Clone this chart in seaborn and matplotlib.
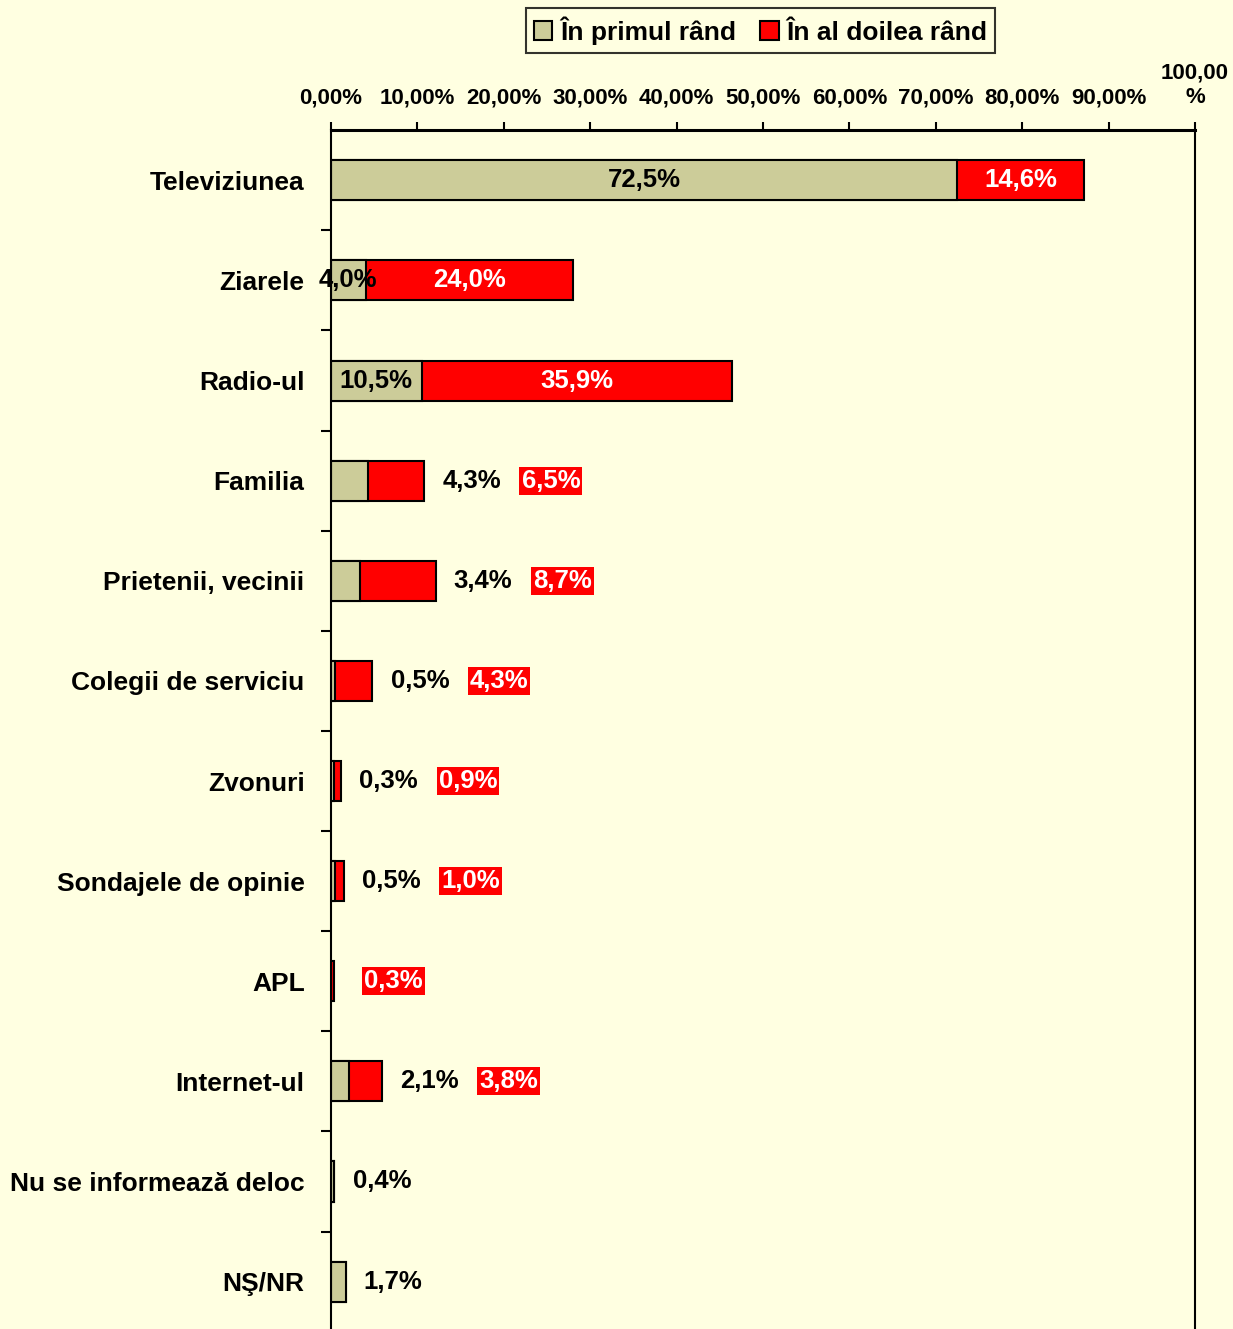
import numpy as np
import pandas as pd
import seaborn as sns
import matplotlib.pyplot as plt
from matplotlib.patches import Patch

# data (percent)
categories = ['Televiziunea', 'Ziarele', 'Radio-ul', 'Familia', 'Prietenii, vecinii',
              'Colegii de serviciu', 'Zvonuri', 'Sondajele de opinie', 'APL',
              'Internet-ul', 'Nu se informează deloc', 'NŞ/NR']
primul_rand = [72.5, 4.0, 10.5, 4.3, 3.4, 0.5, 0.3, 0.5, 0.0, 2.1, 0.4, 1.7]
al_doilea_rand = [14.6, 24.0, 35.9, 6.5, 8.7, 4.3, 0.9, 1.0, 0.3, 3.8, None, None]
x_ticks = [0, 10, 20, 30, 40, 50, 60, 70, 80, 90, 100]
x_ticklabels = ['0,00%', '10,00%', '20,00%', '30,00%', '40,00%', '50,00%',
                '60,00%', '70,00%', '80,00%', '90,00%', '100,00\n%']
legend_labels = ['În primul rând', 'În al doilea rând']

BG = '#FFFFE1'
TAN = '#CCCC99'
RED = '#FF0000'


def fmt(v):
    return f"{v:.1f}".replace('.', ',') + '%'


def main():
    sns.set_style('ticks')
    plt.rcParams['font.family'] = ['Liberation Sans', 'DejaVu Sans']
    plt.rcParams['font.weight'] = 'bold'
    for key in ['text.color', 'axes.labelcolor', 'xtick.color', 'ytick.color', 'axes.edgecolor']:
        plt.rcParams[key] = 'black'

    second = [0.0 if v is None else v for v in al_doilea_rand]
    df = pd.DataFrame({'cat': categories, 'primul': primul_rand, 'doilea': second})
    df['total'] = df['primul'] + df['doilea']

    fig = plt.figure(figsize=(12.33, 13.29), dpi=100, facecolor=BG)
    ax = fig.add_axes([331 / 1233, -0.002, (1195 - 331) / 1233, 0.904])
    ax.set_facecolor(BG)

    # stacked bars: red total first, tan first-choice on top
    sns.barplot(data=df, x='total', y='cat', color=RED, saturation=1, width=0.4,
                edgecolor='black', linewidth=1.5, orient='h', ax=ax)
    sns.barplot(data=df, x='primul', y='cat', color=TAN, saturation=1, width=0.4,
                edgecolor='black', linewidth=1.5, orient='h', ax=ax)

    ax.set_xlim(0, 100)
    ax.set_ylim(11.5, -0.5)
    ax.set_xlabel('')
    ax.set_ylabel('')

    # top axis
    ax.xaxis.set_ticks_position('top')
    ax.xaxis.set_label_position('top')
    ax.set_xticks(x_ticks)
    ax.set_xticklabels(x_ticklabels, fontsize=16, fontweight='bold',
                       family=['Liberation Sans Narrow', 'Liberation Sans'])
    ax.tick_params(axis='x', direction='out', length=6, width=1.5, pad=10, colors='black')

    # category separators as minor ticks
    ax.set_yticks(np.arange(len(categories)))
    ax.set_yticklabels(categories, fontsize=19, fontweight='bold')
    ax.set_yticks(np.arange(0.5, len(categories) - 0.5, 1), minor=True)
    ax.tick_params(axis='y', which='major', length=0, pad=19)
    ax.tick_params(axis='y', which='minor', direction='out', length=7, width=1.5)

    ax.spines['top'].set_linewidth(2.2)
    ax.spines['left'].set_linewidth(1.5)
    ax.spines['right'].set_linewidth(1.5)
    ax.spines['bottom'].set_visible(False)

    # value labels
    for i, (p, d) in enumerate(zip(primul_rand, al_doilea_rand)):
        total = p + (d or 0)
        if total > 20:
            ax.text(p / 2, i, fmt(p), ha='center', va='center', fontsize=18.5,
                    fontweight='bold', color='black')
            ax.text(p + d / 2, i, fmt(d), ha='center', va='center', fontsize=18.5,
                    fontweight='bold', color='white')
            continue
        start = 13
        if p > 0:
            ax.annotate(fmt(p), (total, i), xytext=(start, 0), textcoords='offset points',
                        ha='left', va='center', fontsize=18.5, fontweight='bold')
            red_off = start + 57
        else:
            red_off = 22
        if d is not None:
            ax.annotate(fmt(d), (total, i), xytext=(red_off, 0), textcoords='offset points',
                        ha='left', va='center', fontsize=18.5, fontweight='bold', color='white',
                        bbox=dict(boxstyle='square,pad=0.08', fc=RED, ec='none'))

    handles = [Patch(facecolor=TAN, edgecolor='black', linewidth=1.5),
               Patch(facecolor=RED, edgecolor='black', linewidth=1.5)]
    leg = fig.legend(handles, legend_labels, loc='center', bbox_to_anchor=(0.617, 0.977),
                     ncol=2, frameon=True, fancybox=False, facecolor=BG, edgecolor='black',
                     prop={'size': 19, 'weight': 'bold'}, handlelength=0.7, handleheight=0.7,
                     handletextpad=0.3, columnspacing=0.9, borderpad=0.3, borderaxespad=0)
    leg.get_frame().set_linewidth(1.5)

    fig.savefig('out.png', dpi=100, facecolor=BG)


if __name__ == "__main__":
    main()
